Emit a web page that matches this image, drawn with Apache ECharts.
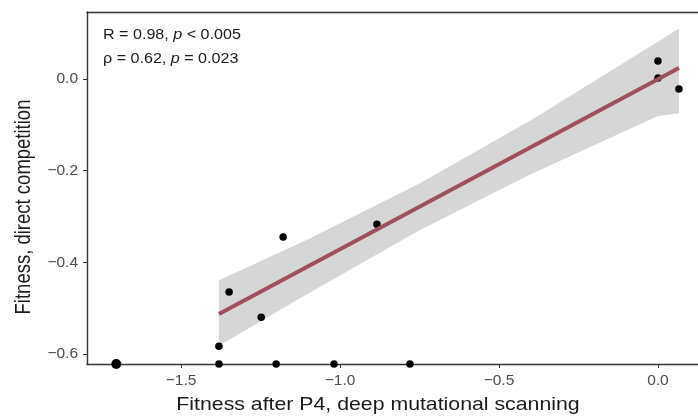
<!DOCTYPE html>
<html>
<head>
  <meta charset="utf-8">
  <script src="https://cdn.jsdelivr.net/npm/echarts@6/dist/echarts.min.js"></script>
</head>
<body style="margin:0">
  <div id="main" style="width: 698px; height: 419px"></div>
  <script type="text/javascript">
    // tick values
    var xTicks = [-1.5, -1.0, -0.5, 0.0];
    var yTicks = [-0.6, -0.4, -0.2, 0.0];

    // measured points (x: deep mutational scanning, y: direct competition)
    var pointsX = [0.0, 0.0, 0.066, -0.884, -1.179, -1.349, -1.248, -1.381];
    var pointsY = [0.039, 0.002, -0.022, -0.317, -0.345, -0.465, -0.520, -0.583];

    // points squished onto the bottom of the y range
    var floorX = [-1.381, -1.201, -1.019, -0.780];
    var floorY = -0.622;
    var stackedX = [-1.704];

    // linear fit and its confidence band
    var fitX = [-1.381, 0.066];
    var fitY = [-0.513, 0.024];
    var bandX = [-1.381, -1.1, -0.75, -0.4, 0.0, 0.066];
    var bandUpper = [-0.439, -0.350, -0.228, -0.090, 0.081, 0.110];
    var bandLower = [-0.582, -0.468, -0.330, -0.208, -0.081, -0.075];

    var font = 'Liberation Sans, Arial, sans-serif';
    var minus = function (v) { return v.toFixed(1).replace('-', '\u2212'); };

    var myChart = echarts.init(document.getElementById('main'));

    // the source picture is a bit wider than tall, so texts get stretched a little
    var stretch = 1.15;
    var richStyle = {
      a: { fontSize: 14, fontFamily: font, fill: '#1a1a1a' },
      i: { fontSize: 14, fontFamily: font, fontStyle: 'italic', fill: '#1a1a1a' }
    };

    myChart.setOption({
      animation: false,
      grid: { left: 87, top: 12, right: 0, bottom: 55 },
      xAxis: [{
        type: 'value',
        min: -1.796,
        max: 0.126,
        splitLine: { show: false },
        axisLine: { onZero: false, lineStyle: { color: '#333', width: 1.4 } },
        axisTick: { length: 4, customValues: xTicks, lineStyle: { color: '#333' } },
        axisLabel: {
          customValues: xTicks, formatter: minus, margin: 9,
          color: '#4d4d4d', fontSize: 15.5, fontFamily: font
        }
      }, {
        type: 'value',
        position: 'top',
        min: -1.796,
        max: 0.126,
        splitLine: { show: false },
        axisLine: { onZero: false, lineStyle: { color: '#333', width: 1.4 } },
        axisTick: { show: false },
        axisLabel: { show: false }
      }],
      yAxis: {
        type: 'value',
        min: -0.622,
        max: 0.146,
        splitLine: { show: false },
        axisLine: { show: true, onZero: false, lineStyle: { color: '#333', width: 1.4 } },
        axisTick: { show: true, length: 4, customValues: yTicks, lineStyle: { color: '#333' } },
        axisLabel: {
          customValues: yTicks, formatter: minus, margin: 9,
          color: '#4d4d4d', fontSize: 15.5, fontFamily: font
        }
      },
      graphic: [{
        type: 'text',
        x: 103, y: 35, scaleX: stretch,
        style: {
          text: '{a|R = 0.98, }{i|p}{a| < 0.005}',
          verticalAlign: 'middle',
          rich: richStyle
        }
      }, {
        type: 'text',
        x: 103, y: 59, scaleX: stretch,
        style: {
          text: '{a|\u03c1 = 0.62, }{i|p}{a| = 0.023}',
          verticalAlign: 'middle',
          rich: richStyle
        }
      }, {
        type: 'text',
        x: 378, y: 405, scaleX: stretch,
        style: {
          text: 'Fitness after P4, deep mutational scanning',
          align: 'center', verticalAlign: 'middle',
          fontSize: 18.5, fontFamily: font, fill: '#1a1a1a'
        }
      }, {
        type: 'text',
        x: 24, y: 207,
        rotation: Math.PI / 2, scaleY: stretch,
        style: {
          text: 'Fitness, direct competition',
          align: 'center', verticalAlign: 'middle',
          fontSize: 18.5, fontFamily: font, fill: '#1a1a1a'
        }
      }],
      series: [{
        type: 'custom',
        z: 1,
        data: bandX.map(function (x, i) { return [x, bandUpper[i], bandLower[i]]; }),
        encode: { x: 0, y: [1, 2] },
        renderItem: function (params, api) {
          if (params.dataIndex !== 0) return null;
          var pts = [];
          for (var i = 0; i < bandX.length; i++) pts.push(api.coord([bandX[i], bandUpper[i]]));
          for (var j = bandX.length - 1; j >= 0; j--) pts.push(api.coord([bandX[j], bandLower[j]]));
          return { type: 'polygon', shape: { points: pts }, style: { fill: '#d6d6d6' } };
        }
      }, {
        type: 'scatter',
        z: 3,
        clip: false,
        symbolSize: 7.5,
        itemStyle: { color: '#000', opacity: 1 },
        data: pointsX.map(function (x, i) { return [x, pointsY[i]]; })
      }, {
        type: 'scatter',
        z: 3,
        clip: false,
        symbolSize: 7.5,
        itemStyle: { color: '#000', opacity: 1 },
        data: floorX.map(function (x) { return [x, floorY]; })
      }, {
        type: 'scatter',
        z: 3,
        clip: false,
        symbolSize: 10,
        itemStyle: { color: '#000', opacity: 1 },
        data: stackedX.map(function (x) { return [x, floorY]; })
      }, {
        type: 'line',
        z: 4,
        symbol: 'none',
        lineStyle: { color: '#a0505c', width: 4 },
        data: fitX.map(function (x, i) { return [x, fitY[i]]; })
      }]
    });
  </script>
</body>
</html>
